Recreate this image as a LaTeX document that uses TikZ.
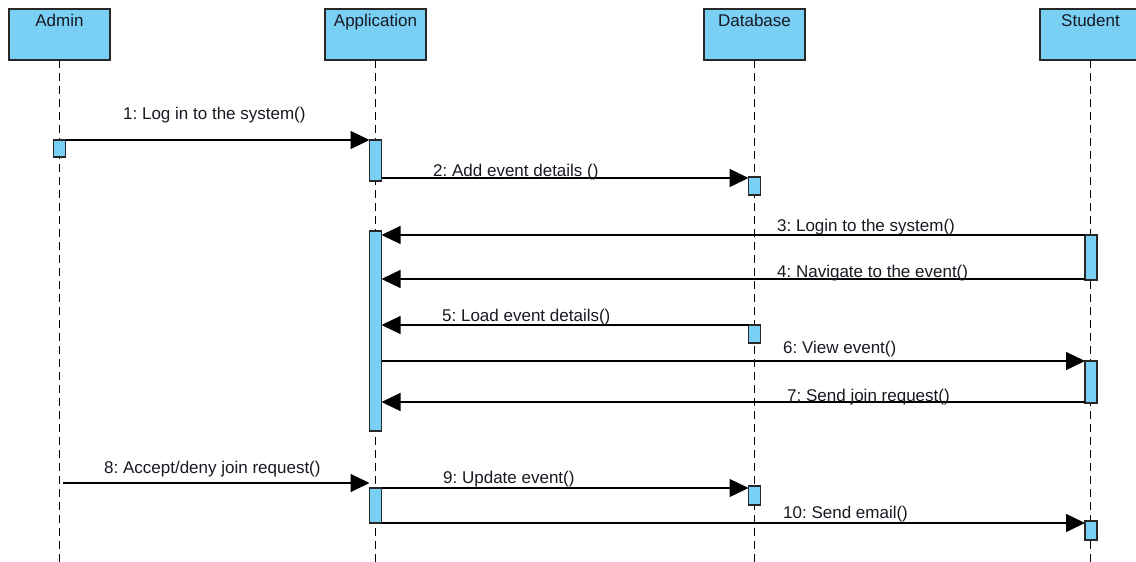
\documentclass[tikz,border=0pt]{standalone}
\usepackage{fontspec}
\setmainfont{Liberation Sans}
\usetikzlibrary{arrows.meta,calc}
\definecolor{actfill}{RGB}{122,207,245}
\definecolor{edge}{RGB}{40,40,40}
\definecolor{ink}{RGB}{25,25,35}
\frenchspacing
\begin{document}
\begin{tikzpicture}[x=1pt,y=-1pt,
  txt/.style={font=\fontsize{17}{20}\selectfont\frenchspacing,text=ink},
  head/.style={draw=edge,fill=actfill,line width=1.4pt,minimum width=101pt,
    minimum height=51pt,inner sep=0pt,outer sep=0pt,
    label={[txt,anchor=base,inner sep=0pt,yshift=-17pt]north:#1}},
  life/.style={draw=black,line width=1.3pt,dash pattern=on 8pt off 5pt},
  actbar/.style={draw=edge,fill=actfill,line width=1.2pt,minimum width=12pt,
    inner sep=0pt,outer sep=0pt},
  msg/.style={draw=black,line width=1.4pt,-{Triangle[length=19pt,width=18pt]}},
  lbl/.style={txt,anchor=base west,inner sep=0pt}]

\useasboundingbox (0,0) rectangle (1136,562);
\clip (0,0) rectangle (1136,562);
\fill[white] (0,0) rectangle (1136,562);

% participants
\node[head=Admin]       (admin)   at (59.5,34.5)   {};
\node[head=Application] (app)     at (375.5,34.5)  {};
\node[head=Database]    (db)      at (754.5,34.5)  {};
\node[head=Student]     (student) at (1090.5,34.5) {};

% lifelines
\coordinate (bottom) at (0,563);
\foreach \p in {admin,app,db,student}
  \draw[life] (\p.south) -- (\p.south |- bottom);

% activation bars
\node[actbar,minimum height=17pt]  (a1) at (59.5,148.5) {};
\node[actbar,minimum height=41pt]  (p1) at (375.5,160.5) {};
\node[actbar,minimum height=200pt] (p2) at (375.5,331) {};
\node[actbar,minimum height=35pt]  (p3) at (375.5,505.5) {};
\node[actbar,minimum height=18pt]  (d1) at (754.5,186) {};
\node[actbar,minimum height=18pt]  (d2) at (754.5,334) {};
\node[actbar,minimum height=19pt]  (d3) at (754.5,495.5) {};
\node[actbar,minimum height=45pt]  (s1) at (1091,257.5) {};
\node[actbar,minimum height=42pt]  (s2) at (1091,382) {};
\node[actbar,minimum height=19pt]  (s3) at (1091,530.5) {};

% messages
\draw[msg] (a1.north east) -- (p1.north west);
\draw[msg] ([yshift=-1pt]p1.east |- d1.north) -- ([yshift=-1pt]d1.north west);
\draw[msg] (s1.north west) -- (p2.east |- s1.north);
\draw[msg] ([yshift=1pt]s1.south west) -- ([yshift=1pt]p2.east |- s1.south);
\draw[msg] (d2.north west) -- (p2.east |- d2.north);
\draw[msg] (p2.east |- s2.north) -- (s2.north west);
\draw[msg] ([yshift=1pt]s2.south west) -- ([yshift=1pt]p2.east |- s2.south);
\coordinate (c8) at (63,483);
\draw[msg] (c8) -- (p3.west |- c8);
\draw[msg] (p3.north east) -- (p3.north east -| d3.west);
\draw[msg] (p3.south east) -- (p3.south east -| s3.west);

% message labels
\node[lbl] (l1)  at (123,119) {1: Log in to the system()};
\node[lbl] (l2)  at (433,176) {2: Add event details ()};
\node[lbl] (l3)  at (777,231) {3: Login to the system()};
\node[lbl] (l4)  at (777,277) {4: Navigate to the event()};
\node[lbl] (l5)  at (442,321) {5: Load event details()};
\node[lbl] (l6)  at (783,353) {6: View event()};
\node[lbl] (l7)  at (787,401) {7: Send join request()};
\node[lbl] (l8)  at (104,473) {8: Accept/deny join request()};
\node[lbl] (l9)  at (443,483) {9: Update event()};
\node[lbl] (l10) at (783,518) {10: Send email()};
\end{tikzpicture}
\end{document}
